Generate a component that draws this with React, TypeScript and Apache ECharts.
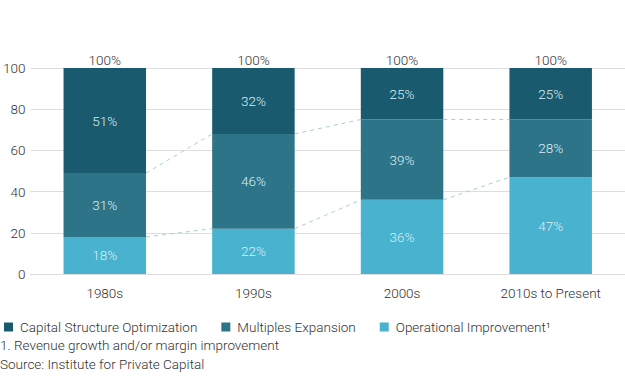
import React, { useEffect, useRef } from "react";
import * as echarts from "echarts";

const categories = ["1980s", "1990s", "2000s", "2010s to Present"];
const operational = [18, 22, 36, 47];
const multiples = [31, 46, 39, 28];
const capital = [51, 32, 25, 25];
const yTicks = [0, 20, 40, 60, 80, 100];
const legendNames = ["Capital Structure Optimization", "Multiples Expansion", "Operational Improvement¹"];
const footnote = "1. Revenue growth and/or margin improvement";
const source = "Source: Institute for Private Capital";

const FONT = "Roboto";
const FS = 13.5;
const C_CAP = "#1a5a6e";
const C_MULT = "#2e7489";
const C_OP = "#48b2cf";
const C_DASH = "#a8cfd9";
const C_IN = "#d8eff5";
const BAR_FRAC = 0.555;

export default function App() {
  const ref = useRef<HTMLDivElement>(null);
  useEffect(() => {
    if (!ref.current) return;
    const chart = echarts.init(ref.current, null, { renderer: "svg" });
    const opTop = operational;
    const multTop = operational.map((v, i) => v + multiples[i]);
    const totals = operational.map((v, i) => v + multiples[i] + capital[i]);
    const connectors: number[][] = [];
    for (let i = 0; i < categories.length - 1; i++) {
      connectors.push([i, opTop[i], opTop[i + 1]]);
      connectors.push([i, multTop[i], multTop[i + 1]]);
    }
    const inLabel = {
      show: true,
      position: "inside",
      color: C_IN,
      fontFamily: FONT,
      fontWeight: 300,
      fontSize: FS,
      formatter: (p: any) => p.value + "%",
    };
    chart.setOption({
      animation: false,
      textStyle: { fontFamily: FONT },
      grid: { left: 26, right: 0, top: 68, bottom: 105, containLabel: false },
      legend: {
        data: legendNames,
        left: -1,
        top: 315,
        icon: "rect",
        itemWidth: 9,
        itemHeight: 9,
        itemGap: 24,
        textStyle: { fontFamily: FONT, fontWeight: 300, fontSize: FS, color: "#333", padding: [0, 0, 0, 2] },
      },
      xAxis: {
        type: "category",
        data: categories,
        axisLine: { show: true, lineStyle: { color: "#ddd" } },
        axisTick: { show: false },
        axisLabel: { color: "#333", fontFamily: FONT, fontWeight: 300, fontSize: FS, margin: 12 },
      },
      yAxis: {
        type: "value",
        min: yTicks[0],
        max: yTicks[yTicks.length - 1],
        interval: 20,
        axisLine: { show: false },
        axisTick: { show: false },
        splitLine: { lineStyle: { color: "#ddd" } },
        axisLabel: { color: "#333", fontFamily: FONT, fontWeight: 300, fontSize: FS, margin: 5 },
      },
      series: [
        {
          name: legendNames[2],
          type: "bar",
          stack: "a",
          data: operational,
          barWidth: BAR_FRAC * 100 + "%",
          itemStyle: { color: C_OP },
          label: inLabel,
        },
        {
          name: legendNames[1],
          type: "bar",
          stack: "a",
          data: multiples,
          itemStyle: { color: C_MULT },
          label: inLabel,
        },
        {
          name: legendNames[0],
          type: "bar",
          stack: "a",
          data: capital,
          itemStyle: { color: C_CAP },
          label: inLabel,
        },
        {
          name: "total",
          type: "bar",
          stack: "a",
          data: categories.map(() => 0),
          itemStyle: { color: "transparent" },
          label: {
            show: true,
            position: "top",
            distance: 1,
            color: "#333",
            fontFamily: FONT,
            fontWeight: 300,
            fontSize: FS,
            formatter: (p: any) => totals[p.dataIndex] + "%",
          },
        },
        {
          name: "connectors",
          type: "custom",
          data: connectors,
          encode: { x: 0, y: [1, 2] },
          z: 1,
          renderItem: (params: any, api: any) => {
            const i = api.value(0);
            const y0 = api.value(1);
            const y1 = api.value(2);
            const p0 = api.coord([i, y0]);
            const p1 = api.coord([i + 1, y1]);
            const half = (api.size([1, 0])[0] * BAR_FRAC) / 2;
            return {
              type: "line",
              shape: { x1: p0[0] + half, y1: p0[1], x2: p1[0] - half, y2: p1[1] },
              style: { stroke: C_DASH, lineWidth: 1, lineDash: [4, 4] },
            };
          },
        },
      ],
      graphic: [
        {
          type: "text",
          left: 0,
          top: 338,
          style: { text: footnote, fill: "#333", font: `300 ${FS}px ${FONT}` },
        },
        {
          type: "text",
          left: 0,
          top: 357,
          style: { text: source, fill: "#333", font: `300 ${FS}px ${FONT}` },
        },
      ],
    });
    return () => chart.dispose();
  }, []);
  return (
    <div
      ref={ref}
      style={{ position: "absolute", left: 0, top: 0, width: 625, height: 379 }}
    />
  );
}
